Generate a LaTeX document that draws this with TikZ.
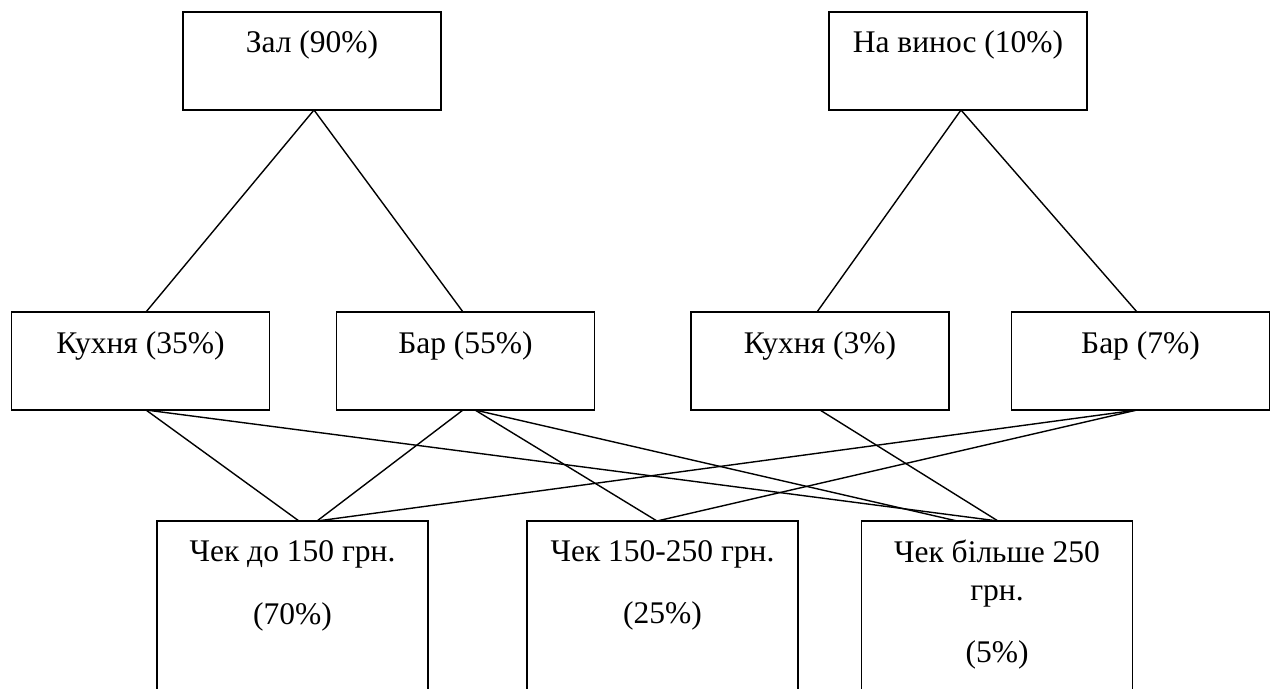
\documentclass[tikz,border=0pt]{standalone}
\usepackage{fontspec}
\setmainfont{Liberation Serif}
\begin{document}
\begin{tikzpicture}[x=1pt,y=-1pt,
  box/.style={draw, line width=1.6pt, rectangle, minimum width=258pt, minimum height=98pt, inner sep=0pt, outer sep=0pt},
  lowbox/.style={draw, line width=1.6pt, rectangle, minimum width=271pt, minimum height=210pt, inner sep=0pt, outer sep=0pt},
  lbl/.style={anchor=base, inner sep=0pt, font=\fontsize{31.5}{38}\selectfont},
  link/.style={line width=1.4pt}]
\useasboundingbox (0,0) rectangle (1274,688);
\clip (0,0) rectangle (1274,688);
% boxes
\node[box] (zal) at (312,61) {};
\node[box] (vynos) at (958,61) {};
\node[box] (k1) at (140.5,361) {};
\node[box] (b1) at (465.5,361) {};
\node[box] (k2) at (820,361) {};
\node[box] (b2) at (1140.5,361) {};
\node[lowbox] (c1) at (292.5,626) {};
\node[lowbox] (c2) at (662.5,626) {};
\node[lowbox] (c3) at (997,626) {};
% labels
\node[lbl] (tzal) at ([yshift=-40pt]zal.north) {Зал (90\%)};
\node[lbl] (tvynos) at ([yshift=-40pt]vynos.north) {На винос (10\%)};
\node[lbl] (tk1) at ([yshift=-41pt]k1.north) {Кухня (35\%)};
\node[lbl] (tb1) at ([yshift=-41pt]b1.north) {Бар (55\%)};
\node[lbl] (tk2) at ([yshift=-41pt]k2.north) {Кухня (3\%)};
\node[lbl] (tb2) at ([yshift=-41pt]b2.north) {Бар (7\%)};
\node[lbl] (tc1a) at ([yshift=-40pt]c1.north) {Чек до 150 грн.};
\node[lbl] (tc1b) at ([yshift=-103pt]c1.north) {(70\%)};
\node[lbl] (tc2a) at ([yshift=-40pt]c2.north) {Чек 150-250 грн.};
\node[lbl] (tc2b) at ([yshift=-102pt]c2.north) {(25\%)};
\node[lbl] (tc3a) at ([yshift=-41pt]c3.north) {Чек більше 250};
\node[lbl] (tc3b) at ([yshift=-79pt]c3.north) {грн.};
\node[lbl] (tc3c) at ([yshift=-141pt]c3.north) {(5\%)};
% connectors top
\draw[link] ([xshift=2pt]zal.south) -- ([xshift=5.5pt]k1.north);
\draw[link] ([xshift=2pt]zal.south) -- ([xshift=-2.5pt]b1.north);
\draw[link] ([xshift=3pt]vynos.south) -- ([xshift=-3pt]k2.north);
\draw[link] ([xshift=3pt]vynos.south) -- ([xshift=-3.5pt]b2.north);
% connectors bottom
\draw[link] ([xshift=5.5pt]k1.south) -- ([xshift=6.5pt]c1.north);
\draw[link] ([xshift=5.5pt]k1.south) -- ([xshift=1pt]c3.north);
\draw[link] ([xshift=-2.5pt]b1.south) -- ([xshift=24.5pt]c1.north);
\draw[link] ([xshift=9.5pt]b1.south) -- ([xshift=-5.5pt]c2.north);
\draw[link] ([xshift=9.5pt]b1.south) -- ([xshift=-40pt]c3.north);
\draw[link] (k2.south) -- ([xshift=1pt]c3.north);
\draw[link] ([xshift=-3.5pt]b2.south) -- ([xshift=24.5pt]c1.north);
\draw[link] ([xshift=-3.5pt]b2.south) -- ([xshift=-5.5pt]c2.north);
\end{tikzpicture}
\end{document}
